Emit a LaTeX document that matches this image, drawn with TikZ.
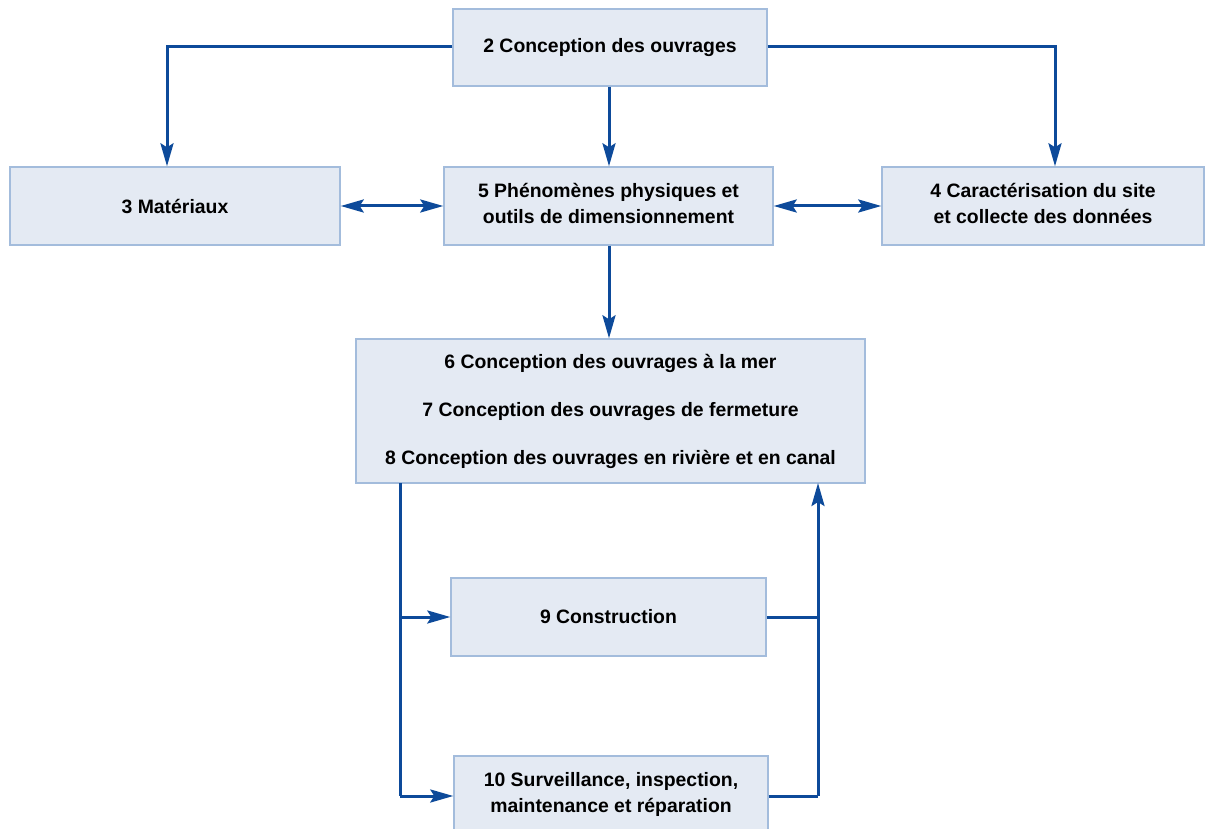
\documentclass[tikz,border=0pt]{standalone}
\usepackage{fontspec}
\setmainfont{Liberation Sans}
\usetikzlibrary{arrows.meta}
\definecolor{linec}{HTML}{0D4A9A}
\definecolor{boxfill}{HTML}{E4EAF3}
\definecolor{boxdraw}{HTML}{A3BCDC}
\tikzset{
  box/.style={draw=boxdraw, fill=boxfill, line width=1.4pt, inner sep=0pt, align=center,
    font=\fontsize{19.4pt}{26pt}\selectfont\bfseries},
  conn/.style={draw=linec, line width=3pt},
  tip/.tip={Stealth[length=23pt, width=13pt, inset=4pt, fill=linec, color=linec]},
  arr/.style={conn, -tip},
  darr/.style={conn, tip-tip},
}
\begin{document}
\begin{tikzpicture}[x=1pt, y=-1pt]
\useasboundingbox (0,0) rectangle (1205,829);
\fill[white] (0,0) rectangle (1205,829);
% boxes
\node[box, minimum width=314pt, minimum height=77pt] (b2) at (610,47.5) {2 Conception des ouvrages};
\node[box, minimum width=330pt, minimum height=78pt] (b3) at (175,206) {3 Matériaux};
\node[box, minimum width=329pt, minimum height=78pt, text depth=6pt] (b5) at (608.5,206) {5 Phénomènes physiques et\\outils de dimensionnement};
\node[box, minimum width=322pt, minimum height=78pt, text depth=6pt] (b4) at (1043,206) {4 Caractérisation du site\\et collecte des données};
\node[box, minimum width=509pt, minimum height=144pt, font=\fontsize{19.4pt}{48pt}\selectfont\bfseries] (b6) at (610.5,411) {6 Conception des ouvrages à la mer\\7 Conception des ouvrages de fermeture\\8 Conception des ouvrages en rivière et en canal};
\node[box, minimum width=315pt, minimum height=78pt] (b9) at (608.5,617) {9 Construction};
\node[box, minimum width=314pt, minimum height=80pt, text depth=8pt] (b10) at (611,796) {10 Surveillance, inspection,\\maintenance et réparation};
% coordinates
\coordinate (c3) at (167,47);
\coordinate (c4) at (1055,47);
\coordinate (l1) at (400,483);
\coordinate (l9) at (400,617);
\coordinate (l10) at (400,796);
\coordinate (r9) at (818,617);
\coordinate (r10) at (818,796);
\coordinate (rt) at (818,483);
% connectors
\draw[arr] (b2.west |- 0,47) -- (c3) -- (b3.north -| c3);
\draw[arr] (b2.east |- 0,47) -- (c4) -- (b4.north -| c4);
\draw[arr] (b2.south -| 609,0) -- (b5.north -| 609,0);
\draw[darr] (b3.east) -- (b5.west);
\draw[darr] (b5.east) -- (b4.west);
\draw[arr] (b5.south -| 609,0) -- (b6.north -| 609,0);
\draw[conn] (l1) -- (l10);
\draw[arr] (l10) -- (b10.west |- l10);
\draw[arr] (l9) -- (b9.west |- l9);
\draw[conn] (b9.east |- r9) -- (r9);
\draw[conn] (b10.east |- r10) -- (r10);
\draw[arr] (r10) -- (rt);
\end{tikzpicture}
\end{document}
